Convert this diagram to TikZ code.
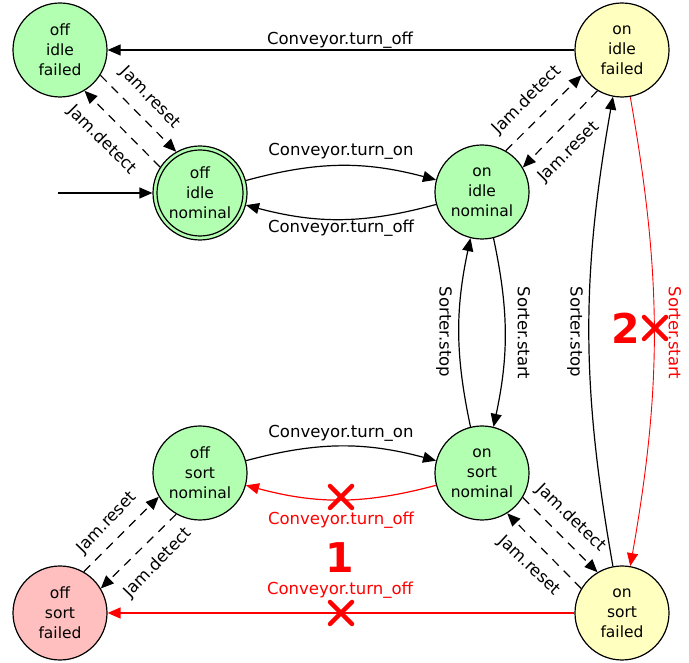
\documentclass[tikz,border=0pt]{standalone}
\usepackage{fontspec}
\setmainfont{DejaVu Sans}
\usetikzlibrary{arrows.meta}
\definecolor{gfill}{RGB}{178,255,178}
\definecolor{yfill}{RGB}{255,255,191}
\definecolor{pfill}{RGB}{255,191,191}
\begin{document}
\begin{tikzpicture}[x=1pt,y=1pt,
  state/.style={circle,draw,line width=1.2pt,minimum size=94pt,inner sep=0pt,align=center,font=\fontsize{15.5}{20}\selectfont},
  edge/.style={line width=1.2pt,-{Triangle[length=13pt,width=11pt]}},
  redge/.style={edge,red},
  jam/.style={edge,dash pattern=on 9pt off 7pt},
  lbl/.style={font=\fontsize{16.5}{19}\selectfont,inner sep=0pt},
  rlbl/.style={lbl,text=red},
  big/.style={font=\fontsize{41}{45}\selectfont\bfseries,text=red,inner sep=0pt},
  xmark/.pic={\draw[red,line width=4.5pt,line cap=round] (-11,-11)--(11,11) (-11,11)--(11,-11);}
]
\useasboundingbox (0,0) rectangle (689,663);
% states
\node[state,fill=gfill] (oif) at (60,613) {off\\idle\\failed};
\node[state,fill=gfill] (oin) at (200,470) {off\\idle\\nominal};
\draw[line width=1.2pt] (oin.center) circle (43);
\node[state,fill=gfill] (onin) at (482,471) {on\\idle\\nominal};
\node[state,fill=yfill] (onif) at (622,613) {on\\idle\\failed};
\node[state,fill=gfill] (osn) at (200,190) {off\\sort\\nominal};
\node[state,fill=gfill] (onsn) at (482,190) {on\\sort\\nominal};
\node[state,fill=pfill] (osf) at (60,50) {off\\sort\\failed};
\node[state,fill=yfill] (onsf) at (622,50) {on\\sort\\failed};
\coordinate (init) at (58,470);
% edges
\draw[edge] (init) -- (oin.west);
\draw[edge] (onif.west) -- (oif.east);
\draw[jam] (oif.-32) -- (oin.120);
\draw[jam] (oin.147) -- (oif.-59);
\draw[edge] (oin) to[bend left=15] (onin);
\draw[edge] (onin) to[bend left=15] (oin);
\draw[jam] (onin.60) -- (onif.-148);
\draw[jam] (onif.-121) -- (onin.31);
\draw[edge] (onin.-76) to[bend left=12] (onsn.76);
\draw[edge] (onsn.104) to[bend left=12] (onin.-104);
\draw[edge] (onsf.101) to[bend left=10] (onif.-101);
\draw[redge,line width=0.9pt] (onif.-80) to[bend left=10] (onsf.80);
\draw[edge] (osn) to[bend left=15] (onsn);
\draw[redge] (onsn) to[bend left=15] (osn);
\draw[jam] (osf.60) -- (osn.210);
\draw[jam] (osn.240) -- (osf.31);
\draw[jam] (onsn.-31) -- (onsf.121);
\draw[jam] (onsf.149) -- (onsn.-58);
\draw[redge,line width=1.6pt] (onsf.west) -- (osf.east);
% labels
\node[lbl] (l1) at (340,623) {Conveyor.turn\_off};
\node[lbl] (l2) at (341,512) {Conveyor.turn\_on};
\node[lbl] (l3) at (341,435) {Conveyor.turn\_off};
\node[lbl] (l4) at (341,230) {Conveyor.turn\_on};
\node[rlbl] (l5) at (341,143) {Conveyor.turn\_off};
\node[rlbl] (l6) at (340,73) {Conveyor.turn\_off};
\node[big] (one) at (340,105) {1};
\node[big] (two) at (626,335) {2};
\pic at (341,166) {xmark};
\pic at (341,50) {xmark};
\pic at (655,335) {xmark};
\node[lbl,rotate=-90] (s1) at (444,331) {Sorter.stop};
\node[lbl,rotate=-90] (s2) at (524,330) {Sorter.start};
\node[lbl,rotate=-90] (s3) at (575,331) {Sorter.stop};
\node[rlbl,rotate=-90] (s4) at (675,330) {Sorter.start};
\node[lbl,rotate=-46] (j1) at (150,565) {Jam.reset};
\node[lbl,rotate=-45] (j2) at (102,523) {Jam.detect};
\node[lbl,rotate=45] (j3) at (527,563) {Jam.detect};
\node[lbl,rotate=45] (j4) at (569,511) {Jam.reset};
\node[lbl,rotate=46] (j5) at (107,140) {Jam.reset};
\node[lbl,rotate=46] (j6) at (158,100) {Jam.detect};
\node[lbl,rotate=-44] (j7) at (571,145) {Jam.detect};
\node[lbl,rotate=-43] (j8) at (529,97) {Jam.reset};
\end{tikzpicture}
\end{document}
